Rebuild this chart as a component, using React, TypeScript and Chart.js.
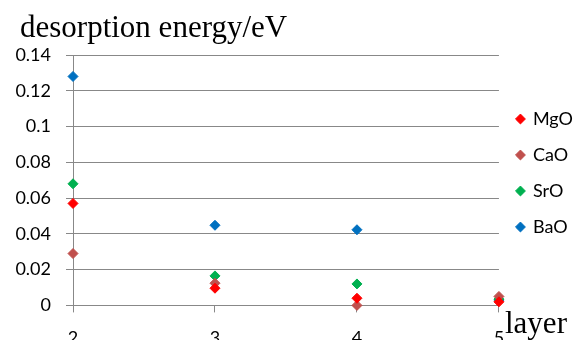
import React, { useEffect, useRef } from "react";
import { Chart, registerables } from "chart.js";

Chart.register(...registerables);

const layers = [2, 3, 4, 5];
const seriesNames = ["MgO", "CaO", "SrO", "BaO"];
const mgo = [0.057, 0.0096, 0.004, 0.002];
const cao = [0.029, 0.0124, 0.0, 0.005];
const sro = [0.068, 0.0165, 0.012, 0.0035];
const bao = [0.128, 0.0448, 0.0423, 0.003];
const seriesColors = ["#FF0000", "#C0504D", "#00B050", "#0070C0"];
const yTickValues = [0, 0.02, 0.04, 0.06, 0.08, 0.1, 0.12, 0.14];
const yTickLabels = ["0", "0.02", "0.04", "0.06", "0.08", "0.1", "0.12", "0.14"];
const xTickLabels = ["2", "3", "4", "5"];
const titleText = "desorption energy/eV";
const xTitleText = "layer";

const sansFont = "Lato, 'Open Sans', sans-serif";

const textPlugin = {
  id: "extraText",
  afterDraw(chart: any) {
    const ctx = chart.ctx;
    ctx.save();
    ctx.fillStyle = "#000";
    ctx.font = "31px 'Liberation Serif', 'Times New Roman', serif";
    ctx.textBaseline = "alphabetic";
    ctx.textAlign = "left";
    ctx.fillText(titleText, 20, 37);
    ctx.fillText(xTitleText, 505, 333);
    ctx.restore();
  },
};

export default function App() {
  const ref = useRef<HTMLCanvasElement | null>(null);
  useEffect(() => {
    document.body.style.margin = "0";
    const all = [mgo, cao, sro, bao];
    const chart = new Chart(ref.current as HTMLCanvasElement, {
      type: "scatter",
      data: {
        datasets: all.map((vals, i) => ({
          label: seriesNames[i],
          data: layers.map((x, j) => ({ x, y: vals[j] })),
          backgroundColor: seriesColors[i],
          borderColor: seriesColors[i],
          borderWidth: 1,
          pointStyle: "rectRot",
          pointRadius: 5,
          showLine: false,
          clip: false,
        })),
      },
      options: {
        responsive: false,
        animation: false,
        layout: { padding: { top: 55, left: 0, right: -8, bottom: 0 } },
        plugins: {
          legend: {
            position: "right",
            align: "start",
            title: {
              display: true,
              text: "",
              font: { size: 10 },
              padding: { top: 25, bottom: 0 },
            },
            labels: {
              usePointStyle: true,
              pointStyle: "rectRot",
              boxWidth: 7,
              boxHeight: 7,
              padding: 18,
              color: "#000",
              font: { family: sansFont, size: 18 },
            },
          },
          tooltip: { enabled: false },
        },
        scales: {
          x: {
            type: "linear",
            min: 2,
            max: 5,
            afterBuildTicks: (scale: any) => {
              scale.ticks = layers.map((v) => ({ value: v }));
            },
            ticks: {
              color: "#000",
              padding: 15,
              maxRotation: 0,
              font: { family: sansFont, size: 18 },
              callback: (v: any) => xTickLabels[layers.indexOf(Number(v))] ?? "",
            },
            grid: {
              drawOnChartArea: false,
              drawTicks: true,
              tickLength: 7,
              color: "#888",
            },
            border: { display: true, color: "#888" },
          },
          y: {
            min: 0,
            max: 0.14,
            afterBuildTicks: (scale: any) => {
              scale.ticks = yTickValues.map((v) => ({ value: v }));
            },
            afterFit: (scale: any) => {
              scale.width = 73;
            },
            ticks: {
              color: "#000",
              padding: 15,
              font: { family: sansFont, size: 18 },
              callback: (v: any) => {
                const idx = yTickValues.findIndex((t) => Math.abs(t - Number(v)) < 1e-9);
                return idx >= 0 ? yTickLabels[idx] : "";
              },
            },
            grid: {
              color: "#888",
              drawTicks: true,
              tickLength: 7,
            },
            border: { display: true, color: "#888" },
          },
        },
      },
      plugins: [textPlugin],
    } as any);
    return () => chart.destroy();
  }, []);
  return (
    <div
      style={{
        position: "fixed",
        left: 0,
        top: 0,
        width: 575,
        height: 340,
        overflow: "hidden",
        background: "#fff",
      }}
    >
      <canvas ref={ref} width={575} height={364} />
    </div>
  );
}
